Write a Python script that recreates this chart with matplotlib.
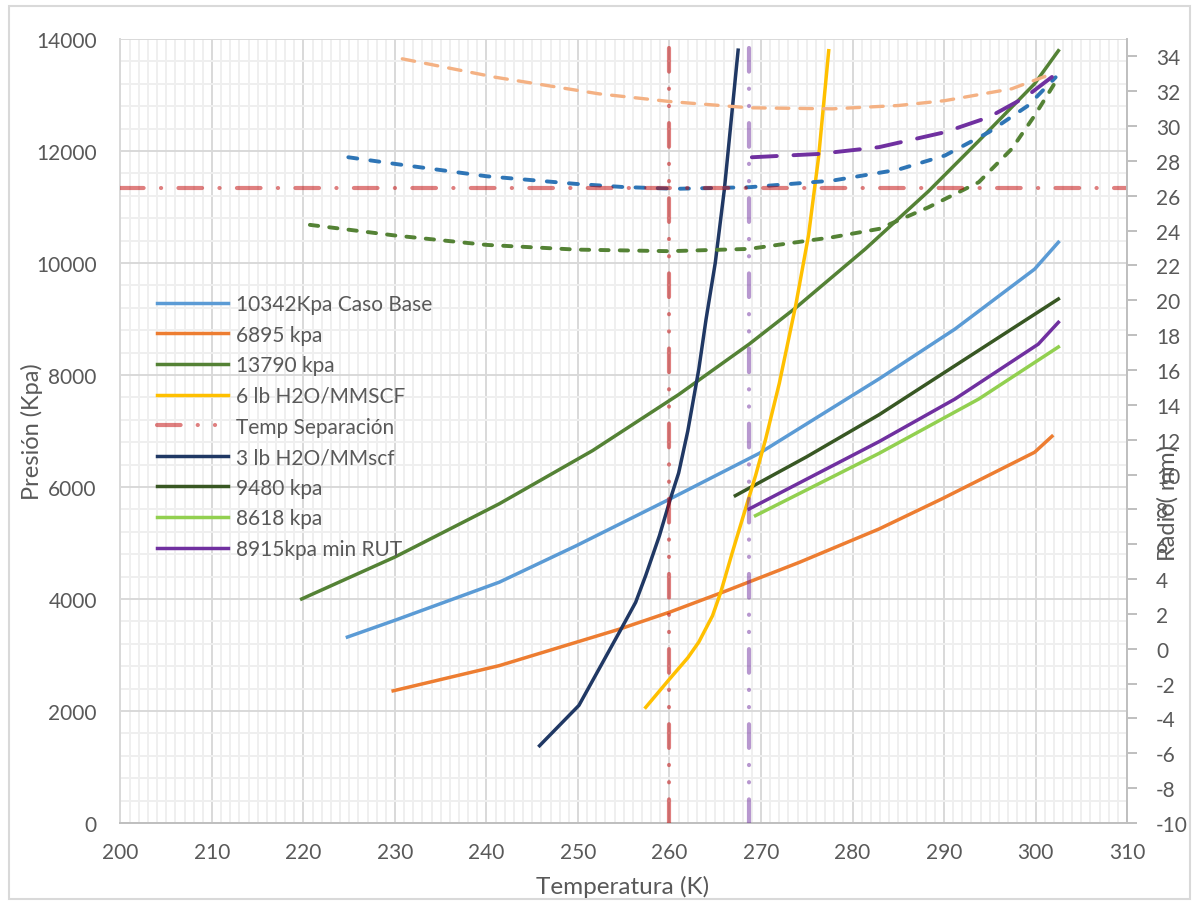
import matplotlib.pyplot as plt
from matplotlib.ticker import MultipleLocator

plt.rcParams["font.family"] = ["Lato", "DejaVu Sans"]
plt.rcParams["lines.scale_dashes"] = False
plt.rcParams["axes.unicode_minus"] = False

# Pressure curves (left axis, kPa) against temperature (K)
t_base = [224.8, 230.0, 241.4, 249.8, 260.1, 269.8, 282.9, 291.2, 299.9, 302.5]
p_base = [3320, 3620, 4300, 4950, 5790, 6600, 7930, 8820, 9890, 10370]

t_6895 = [229.8, 241.4, 254.5, 260.1, 265.8, 274.2, 282.9, 289.8, 299.9, 301.8]
p_6895 = [2360, 2810, 3460, 3770, 4120, 4655, 5250, 5790, 6620, 6905]

t_13790 = [219.8, 230.0, 241.4, 251.6, 261.0, 268.7, 273.8, 281.4, 288.3, 293.8, 299.9, 302.5]
p_13790 = [4000, 4750, 5700, 6650, 7650, 8550, 9200, 10250, 11280, 12180, 13200, 13790]

t_6lb = [257.4, 260.0, 262.0, 263.2, 264.7, 265.6, 266.9, 268.1, 269.4, 270.5,
         272.0, 273.8, 275.2, 276.3, 277.4]
p_6lb = [2065, 2570, 2950, 3230, 3700, 4120, 4850, 5500, 6200, 6850,
         7850, 9250, 10500, 11900, 13790]

t_3lb = [245.8, 250.1, 252.3, 254.7, 256.3, 257.4, 258.9, 260.1, 261.0, 262.0,
         263.2, 264.0, 265.0, 266.0, 266.9, 267.5]
p_3lb = [1380, 2100, 2750, 3460, 3940, 4420, 5130, 5790, 6250, 7000,
         8100, 9000, 10000, 11320, 12810, 13800]

t_9480 = [267.2, 275.0, 282.9, 297.4, 302.5]
p_9480 = [5845, 6540, 7290, 8820, 9357]

t_8618 = [269.4, 282.9, 293.8, 302.5]
p_8618 = [5488, 6600, 7571, 8500]

t_8915 = [268.7, 282.9, 291.2, 300.3, 302.5]
p_8915 = [5607, 6810, 7571, 8550, 8940]

# Radius curves (right axis, mm)
t_r_6895 = [230.8, 241.0, 252.3, 260.0, 268.7, 277.8, 285.0, 290.1, 297.4, 301.8]
r_6895 = [33.86, 32.8, 31.85, 31.41, 31.05, 30.99, 31.18, 31.46, 32.14, 33.0]

t_r_base = [224.9, 230.0, 240.0, 249.8, 255.0, 260.7, 268.7, 277.8, 285.0, 290.1,
            294.9, 299.2, 302.2]
r_base = [28.21, 27.83, 27.12, 26.68, 26.5, 26.4, 26.49, 26.87, 27.5, 28.31,
          29.65, 31.18, 32.8]

t_r_13790 = [220.7, 230.0, 240.0, 249.8, 260.0, 268.7, 277.8, 282.9, 288.3, 293.8,
             297.4, 299.9, 302.5]
r_13790 = [24.33, 23.72, 23.18, 22.91, 22.82, 22.95, 23.62, 24.1, 25.34, 26.78,
           28.69, 30.6, 32.8]

t_r_8915 = [269.0, 276.3, 282.9, 290.1, 294.9, 298.9, 302.5]
r_8915 = [28.21, 28.4, 28.79, 29.65, 30.51, 31.66, 33.1]

# Reference lines
temp_sep = 260.0
temp_rut = 268.7
radio_sep = 26.45

fig = plt.figure(figsize=(11.94, 9.04), dpi=100)
fig.patches.append(plt.Rectangle((9 / 1194, 4 / 904), 1181 / 1194, 893 / 904,
                                 transform=fig.transFigure, fill=False,
                                 edgecolor="#D9D9D9", lw=1.5))
ax = fig.add_axes([0.1009, 0.0885, 0.8430, 0.8673])
ax2 = ax.twinx()

ax.set_xlim(200, 310)
ax.set_ylim(0, 14000)
ax2.set_ylim(-10, 35)
ax.xaxis.set_major_locator(MultipleLocator(10))
ax.xaxis.set_minor_locator(MultipleLocator(1))
ax.yaxis.set_major_locator(MultipleLocator(2000))
ax.yaxis.set_minor_locator(MultipleLocator(400))
ax2.set_yticks(range(-10, 35, 2))

ax.set_axisbelow(True)
ax.grid(which="minor", color="#EFEFEF", lw=1.4)
ax.grid(which="major", color="#D9D9D9", lw=1.4)

for s in ["top", "right"]:
    ax.spines[s].set_visible(False)
ax.spines["left"].set_color("#D9D9D9")
ax.spines["bottom"].set_color("#BFBFBF")
ax.spines["left"].set_linewidth(1.4)
ax.spines["bottom"].set_linewidth(1.4)
for s in ["top", "left", "bottom"]:
    ax2.spines[s].set_visible(False)
ax2.spines["right"].set_color("#BFBFBF")
ax2.spines["right"].set_linewidth(1.4)

ax.tick_params(which="both", length=0, labelsize=15, labelcolor="#595959")
ax.tick_params(axis="y", pad=17)
ax.tick_params(axis="x", pad=14)
ax2.tick_params(axis="y", length=7, width=1.4, color="#BFBFBF", pad=14,
                labelsize=15, labelcolor="#595959")

lw = 2.5
h_base, = ax.plot(t_base, p_base, color="#5B9BD5", lw=lw)
h_6895, = ax.plot(t_6895, p_6895, color="#ED7D31", lw=lw)
h_13790, = ax.plot(t_13790, p_13790, color="#548235", lw=lw)
h_9480, = ax.plot(t_9480, p_9480, color="#385723", lw=lw)
h_8618, = ax.plot(t_8618, p_8618, color="#92D050", lw=lw)
h_8915, = ax.plot(t_8915, p_8915, color="#7030A0", lw=lw)
h_3lb, = ax.plot(t_3lb, p_3lb, color="#203864", lw=lw)
h_6lb, = ax.plot(t_6lb, p_6lb, color="#FFC000", lw=lw)

dlw = 2.8
ax2.plot(t_r_6895, r_6895, color="#F4B183", lw=2.4, dashes=(9, 8), dash_capstyle="round")
ax2.plot(t_r_base, r_base, color="#2E75B6", lw=dlw, dashes=(6.5, 9.5), dash_capstyle="round")
ax2.plot(t_r_13790, r_13790, color="#548235", lw=dlw, dashes=(6, 8), dash_capstyle="round")
ax2.plot(t_r_8915, r_8915, color="#7030A0", lw=dlw, dashes=(18, 12), dash_capstyle="round")

ax2.axhline(radio_sep, color="#C00000", alpha=0.5, lw=3.0,
            dashes=(17, 12.5, 0.1, 12.5), dash_capstyle="round")
h_sep = ax2.axvline(temp_sep, color="#C00000", alpha=0.5, lw=3.0,
                    dashes=(17, 12.3, 0.1, 12.3, 0.1, 12.3), dash_capstyle="round")
ax2.axvline(temp_rut, color="#7030A0", alpha=0.5, lw=3.0,
            dashes=(17, 12.3, 0.1, 12.3, 0.1, 12.3), dash_capstyle="round")

handles = [h_base, h_6895, h_13790, h_6lb, h_sep, h_3lb, h_9480, h_8618, h_8915]
labels = ["10342Kpa Caso Base", "6895 kpa", "13790 kpa", "6 lb H2O/MMSCF",
          "Temp Separación", "3 lb H2O/MMscf", "9480 kpa", "8618 kpa",
          "8915kpa min RUT"]
ax2.legend(handles, labels, loc="upper left", bbox_to_anchor=(157 / 1194, 1 - 295 / 904),
           bbox_transform=fig.transFigure, frameon=False, fontsize=15,
           labelcolor="#595959", handlelength=3.4, handletextpad=0.4,
           labelspacing=0.51, borderpad=0, borderaxespad=0)

fig.text(623 / 1194, 1 - 887 / 904, "Temperatura (K)", fontsize=17.5,
         color="#595959", ha="center", va="center")
fig.text(32 / 1194, 1 - 432 / 904, "Presión (Kpa)", fontsize=17,
         color="#595959", ha="center", va="center", rotation=90)
fig.text(1168 / 1194, 1 - 503 / 904, "Radio( mm)", fontsize=17,
         color="#595959", ha="center", va="center", rotation=90)

fig.savefig("out.png", dpi=100)
